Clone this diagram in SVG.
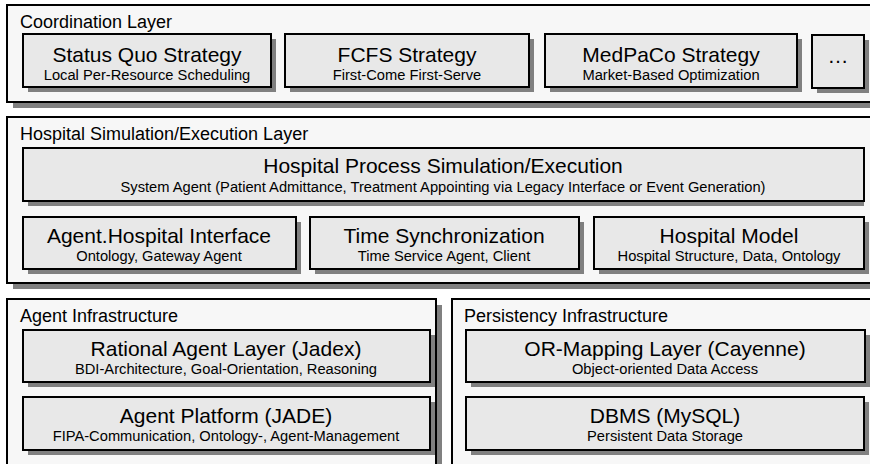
<svg xmlns="http://www.w3.org/2000/svg" width="870" height="464" viewBox="0 0 870 464">
  <style>
    .layer { fill: #f7f7f7; stroke: #000; stroke-width: 2; }
    .layer-shadow { fill: #808080; }
    .box { fill: #e8e8e8; stroke: #000; stroke-width: 2; }
    .box-shadow { fill: #808080; }
    text { font-family: "Liberation Sans", Arial, Helvetica, sans-serif; fill: #000; }
    .layer-label { font-size: 18px; }
    .title { font-size: 21px; text-anchor: middle; }
    .sub { font-size: 14.7px; text-anchor: middle; }
  </style>
  <rect width="870" height="464" fill="#ffffff"/>

  <!-- Coordination layer -->
  <g id="coordination-layer">
    <rect class="layer-shadow" x="13" y="11" width="880" height="97"/>
    <rect class="layer" x="7" y="5" width="880" height="97"/>
    <text class="layer-label" x="20" y="28">Coordination Layer</text>
  </g>
  <g id="status-quo">
    <rect class="box-shadow" x="28" y="39" width="248" height="53"/>
    <rect class="box" x="23" y="34" width="248" height="53"/>
    <text class="title" x="147" y="62">Status Quo Strategy</text>
    <text class="sub" x="147" y="80">Local Per-Resource Scheduling</text>
  </g>
  <g id="fcfs">
    <rect class="box-shadow" x="290" y="39" width="244" height="53"/>
    <rect class="box" x="285" y="34" width="244" height="53"/>
    <text class="title" x="407" y="62">FCFS Strategy</text>
    <text class="sub" x="407" y="80">First-Come First-Serve</text>
  </g>
  <g id="medpaco">
    <rect class="box-shadow" x="550" y="39" width="252" height="53"/>
    <rect class="box" x="545" y="34" width="252" height="53"/>
    <text class="title" x="671" y="62">MedPaCo Strategy</text>
    <text class="sub" x="671" y="80">Market-Based Optimization</text>
  </g>
  <g id="more-strategies">
    <rect class="box-shadow" x="817" y="40" width="52" height="53"/>
    <rect class="box" x="812" y="35" width="52" height="53"/>
    <text class="title" x="838" y="63">…</text>
  </g>

  <!-- Hospital simulation/execution layer -->
  <g id="hospital-layer">
    <rect class="layer-shadow" x="13" y="123" width="880" height="166"/>
    <rect class="layer" x="7" y="117" width="880" height="166"/>
    <text class="layer-label" x="20" y="140">Hospital Simulation/Execution Layer</text>
  </g>
  <g id="process-simulation">
    <rect class="box-shadow" x="28" y="153" width="836" height="53"/>
    <rect class="box" x="23" y="148" width="841" height="53"/>
    <text class="title" x="443" y="173">Hospital Process Simulation/Execution</text>
    <text class="sub" x="443" y="192">System Agent (Patient Admittance, Treatment Appointing via Legacy Interface or Event Generation)</text>
  </g>
  <g id="agent-hospital-interface">
    <rect class="box-shadow" x="28" y="222" width="273" height="52"/>
    <rect class="box" x="23" y="217" width="273" height="52"/>
    <text class="title" x="159" y="243">Agent.Hospital Interface</text>
    <text class="sub" x="159" y="261">Ontology, Gateway Agent</text>
  </g>
  <g id="time-synchronization">
    <rect class="box-shadow" x="315" y="222" width="269" height="52"/>
    <rect class="box" x="310" y="217" width="269" height="52"/>
    <text class="title" x="444" y="243">Time Synchronization</text>
    <text class="sub" x="444" y="261">Time Service Agent, Client</text>
  </g>
  <g id="hospital-model">
    <rect class="box-shadow" x="599" y="222" width="270" height="52"/>
    <rect class="box" x="594" y="217" width="270" height="52"/>
    <text class="title" x="729" y="243">Hospital Model</text>
    <text class="sub" x="729" y="261">Hospital Structure, Data, Ontology</text>
  </g>

  <!-- Agent infrastructure -->
  <g id="agent-infrastructure">
    <rect class="layer-shadow" x="13" y="305" width="429" height="200"/>
    <rect class="layer" x="7" y="299" width="429" height="200"/>
    <text class="layer-label" x="20" y="322">Agent Infrastructure</text>
  </g>
  <g id="rational-agent-layer">
    <rect class="box-shadow" x="28" y="335" width="407" height="52"/>
    <rect class="box" x="23" y="330" width="407" height="52"/>
    <text class="title" x="226" y="356">Rational Agent Layer (Jadex)</text>
    <text class="sub" x="226" y="374">BDI-Architecture, Goal-Orientation, Reasoning</text>
  </g>
  <g id="agent-platform">
    <rect class="box-shadow" x="28" y="402" width="407" height="53"/>
    <rect class="box" x="23" y="397" width="407" height="53"/>
    <text class="title" x="226" y="423">Agent Platform (JADE)</text>
    <text class="sub" x="226" y="441">FIPA-Communication, Ontology-, Agent-Management</text>
  </g>

  <!-- Persistency infrastructure -->
  <g id="persistency-infrastructure">
    <rect class="layer-shadow" x="458" y="305" width="440" height="200"/>
    <rect class="layer" x="452" y="299" width="440" height="200"/>
    <text class="layer-label" x="464" y="322">Persistency Infrastructure</text>
  </g>
  <g id="or-mapping-layer">
    <rect class="box-shadow" x="471" y="335" width="399" height="52"/>
    <rect class="box" x="466" y="330" width="399" height="52"/>
    <text class="title" x="665" y="356">OR-Mapping Layer (Cayenne)</text>
    <text class="sub" x="665" y="374">Object-oriented Data Access</text>
  </g>
  <g id="dbms">
    <rect class="box-shadow" x="471" y="402" width="398" height="53"/>
    <rect class="box" x="466" y="397" width="398" height="53"/>
    <text class="title" x="665" y="423">DBMS (MySQL)</text>
    <text class="sub" x="665" y="441">Persistent Data Storage</text>
  </g>

  <g id="connectors"/>
</svg>
